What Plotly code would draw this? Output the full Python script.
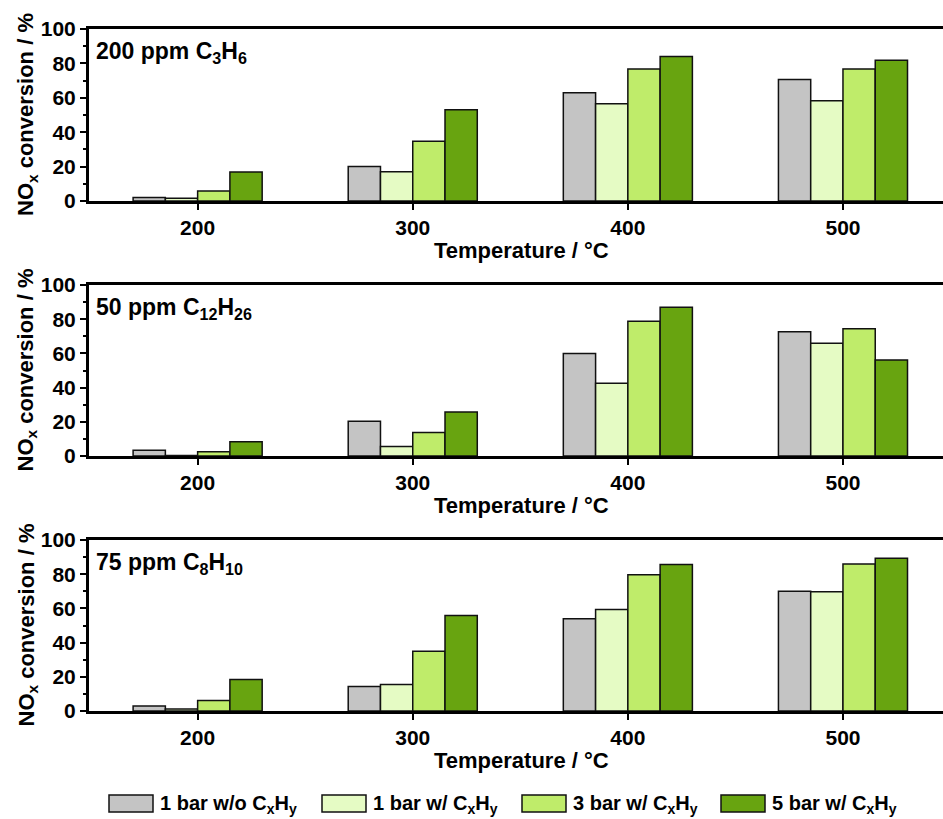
import plotly.graph_objects as go

# ---------------- data ----------------
temperatures = [200, 300, 400, 500]
series_names = ["1 bar w/o C<sub>x</sub>H<sub>y</sub>",
                "1 bar w/ C<sub>x</sub>H<sub>y</sub>",
                "3 bar w/ C<sub>x</sub>H<sub>y</sub>",
                "5 bar w/ C<sub>x</sub>H<sub>y</sub>"]
series_colors = ["#C4C4C4", "#E5FBC4", "#BFEC6A", "#68A410"]

panel_labels = ["200 ppm C<sub>3</sub>H<sub>6</sub>",
                "50 ppm C<sub>12</sub>H<sub>26</sub>",
                "75 ppm C<sub>8</sub>H<sub>10</sub>"]

# NOx conversion (%) per panel, per series (order of series_names)
c3h6_1bar_wo = [2.0, 20.0, 63.0, 70.7]
c3h6_1bar_w = [1.6, 17.0, 56.6, 58.3]
c3h6_3bar_w = [5.8, 34.7, 76.7, 76.7]
c3h6_5bar_w = [16.9, 53.0, 84.0, 81.8]

c12h26_1bar_wo = [3.3, 20.3, 60.0, 72.7]
c12h26_1bar_w = [0.3, 5.5, 42.5, 65.9]
c12h26_3bar_w = [2.5, 13.8, 78.8, 74.4]
c12h26_5bar_w = [8.4, 25.7, 87.0, 56.1]

c8h10_1bar_wo = [2.9, 14.3, 53.9, 70.1]
c8h10_1bar_w = [1.2, 15.5, 59.4, 69.7]
c8h10_3bar_w = [6.1, 35.0, 79.7, 85.9]
c8h10_5bar_w = [18.4, 55.9, 85.7, 89.3]

panels = [
    [c3h6_1bar_wo, c3h6_1bar_w, c3h6_3bar_w, c3h6_5bar_w],
    [c12h26_1bar_wo, c12h26_1bar_w, c12h26_3bar_w, c12h26_5bar_w],
    [c8h10_1bar_wo, c8h10_1bar_w, c8h10_3bar_w, c8h10_5bar_w],
]

y_ticks = [0, 20, 40, 60, 80, 100]
x_ticks = [200, 300, 400, 500]
x_title = "Temperature / °C"
y_title = "NO<sub>x</sub> conversion / %"

# ---------------- layout helpers ----------------
W, H = 943, 819
FONT = "Liberation Sans, Arial, sans-serif"


def px_x(p):
    return p / W


def px_y(p):
    return 1 - p / H


panel_px = [(29, 201), (285, 456), (540, 711)]  # top, bottom pixel of each plot area
plot_left, plot_right = 89, 943

fig = go.Figure()

for i, (panel, (top, bot)) in enumerate(zip(panels, panel_px)):
    sfx = "" if i == 0 else str(i + 1)
    for name, vals, col in zip(series_names, panel, series_colors):
        fig.add_trace(go.Bar(
            x=temperatures, y=vals, name=name,
            marker=dict(color=col, line=dict(color="#111111", width=1.5)),
            xaxis="x" + sfx, yaxis="y" + sfx,
            showlegend=False,
        ))
    fig.layout["xaxis" + sfx] = dict(
        domain=[px_x(plot_left), px_x(plot_right)],
        anchor="y" + sfx,
        range=[149.5, 546.5],
        tickvals=x_ticks,
        ticks="outside", ticklen=6, tickwidth=2, tickcolor="black",
        showline=True, linewidth=3, linecolor="black", mirror=True,
        showgrid=False, zeroline=False, automargin=False,
        tickfont=dict(family=FONT, size=21, color="black", weight=700),
    )
    fig.layout["yaxis" + sfx] = dict(
        domain=[px_y(bot), px_y(top)],
        anchor="x" + sfx,
        range=[0, 100],
        tickvals=y_ticks,
        ticks="outside", ticklen=6, tickwidth=2, tickcolor="black",
        minor=dict(ticks="outside", ticklen=3, tickwidth=2, tickcolor="black",
                   tick0=10, dtick=20),
        showline=True, linewidth=3, linecolor="black",
        showgrid=False, zeroline=False, automargin=False,
        tickfont=dict(family=FONT, size=21, color="black", weight=700),
    )
    # panel label
    fig.add_annotation(
        text=panel_labels[i], xref="paper", yref="paper",
        x=px_x(94), y=px_y(top + 23), xanchor="left", yanchor="middle",
        showarrow=False, font=dict(family=FONT, size=23, color="black", weight=700),
    )
    # x title
    fig.add_annotation(
        text=x_title, xref="paper", yref="paper",
        x=px_x(521), y=px_y(bot + 49), xanchor="center", yanchor="middle",
        showarrow=False, font=dict(family=FONT, size=22, color="black", weight=700),
    )
    # y title
    fig.add_annotation(
        text=y_title, xref="paper", yref="paper", textangle=-90,
        x=px_x(27), y=px_y((top + bot) / 2), xanchor="center", yanchor="middle",
        showarrow=False, font=dict(family=FONT, size=22, color="black", weight=700),
    )

# ---------------- custom legend ----------------
legend_x = [109, 322, 522, 721]
box_w, box_top, box_bot = 44, 795, 812
for lx, name, col in zip(legend_x, series_names, series_colors):
    fig.add_shape(type="rect", xref="paper", yref="paper",
                  x0=px_x(lx), x1=px_x(lx + box_w), y0=px_y(box_bot), y1=px_y(box_top),
                  fillcolor=col, line=dict(color="#111111", width=1.5))
    fig.add_annotation(
        text=name, xref="paper", yref="paper",
        x=px_x(lx + box_w + 5), y=px_y((box_top + box_bot) / 2 + 1),
        xanchor="left", yanchor="middle", showarrow=False,
        font=dict(family=FONT, size=20, color="black", weight=700),
    )

fig.update_layout(
    width=W, height=H,
    margin=dict(l=0, r=0, t=0, b=0, autoexpand=False),
    paper_bgcolor="white", plot_bgcolor="white",
    barmode="group", bargap=0.4, bargroupgap=0,
    showlegend=False,
)

fig.write_html("out.html", config={"displayModeBar": False})
